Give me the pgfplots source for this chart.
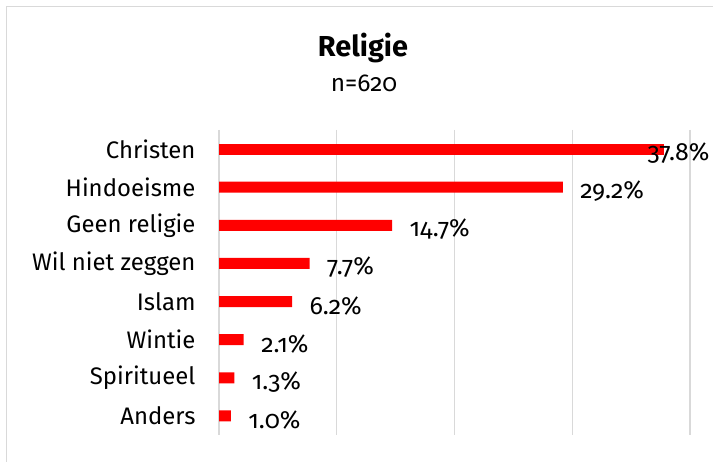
\documentclass[border=0pt]{standalone}
\usepackage{pgfplots}
\pgfplotsset{compat=1.18}
\usepackage{fontspec}
\setmainfont{Fira Sans}[Numbers=OldStyle]
\definecolor{gridgray}{HTML}{D9D9D9}
\definecolor{barred}{HTML}{FF0000}
\begin{document}
\begin{tikzpicture}[x=1bp,y=1bp]
\useasboundingbox (0,0) rectangle (713,462);
\draw[gridgray,line width=1.5bp] (6.5,0) -- (6.5,455.5) -- (713,455.5);
\node[font=\bfseries\fontsize{29}{33}\selectfont] at (363,414) {Religie};
\node[font=\fontsize{24.5}{28}\selectfont] at (364,379) {n=620};
\begin{axis}[
  at={(219bp,27bp)}, anchor=south west,
  width=471bp, height=305bp, scale only axis,
  xmin=0, xmax=40, ymin=-0.5, ymax=7.5,
  y dir=reverse,
  axis line style={draw=none},
  xtick={0,10,20,30,40}, xticklabels={},
  xmajorgrids, grid style={gridgray, line width=1.2bp},
  major tick length=0pt,
  ytick={0,...,7},
  yticklabels={Christen,Hindoeisme,Geen religie,Wil niet zeggen,Islam,Wintie,Spiritueel,Anders},
  yticklabel style={font=\fontsize{24}{28}\selectfont, xshift=-20bp},
  xbar, bar width=11bp, bar shift=0pt,
  point meta=explicit symbolic,
  nodes near coords={\pgfplotspointmeta\%},
  every node near coord/.append style={font=\fontsize{25}{28}\selectfont, anchor=west, xshift=14bp, yshift=-4bp, text=black},
  clip=false,
]
\addplot[fill=barred, draw=none] coordinates {
  (29.2,1) [29.2]
  (14.7,2) [14.7]
  (7.7,3) [7.7]
  (6.2,4) [6.2]
  (2.1,5) [2.1]
  (1.3,6) [1.3]
  (1.0,7) [1.0]
};
\addplot[fill=barred, draw=none, every node near coord/.append style={xshift=-34bp}] coordinates {
  (37.8,0) [37.8]
};
\end{axis}
\end{tikzpicture}
\end{document}
